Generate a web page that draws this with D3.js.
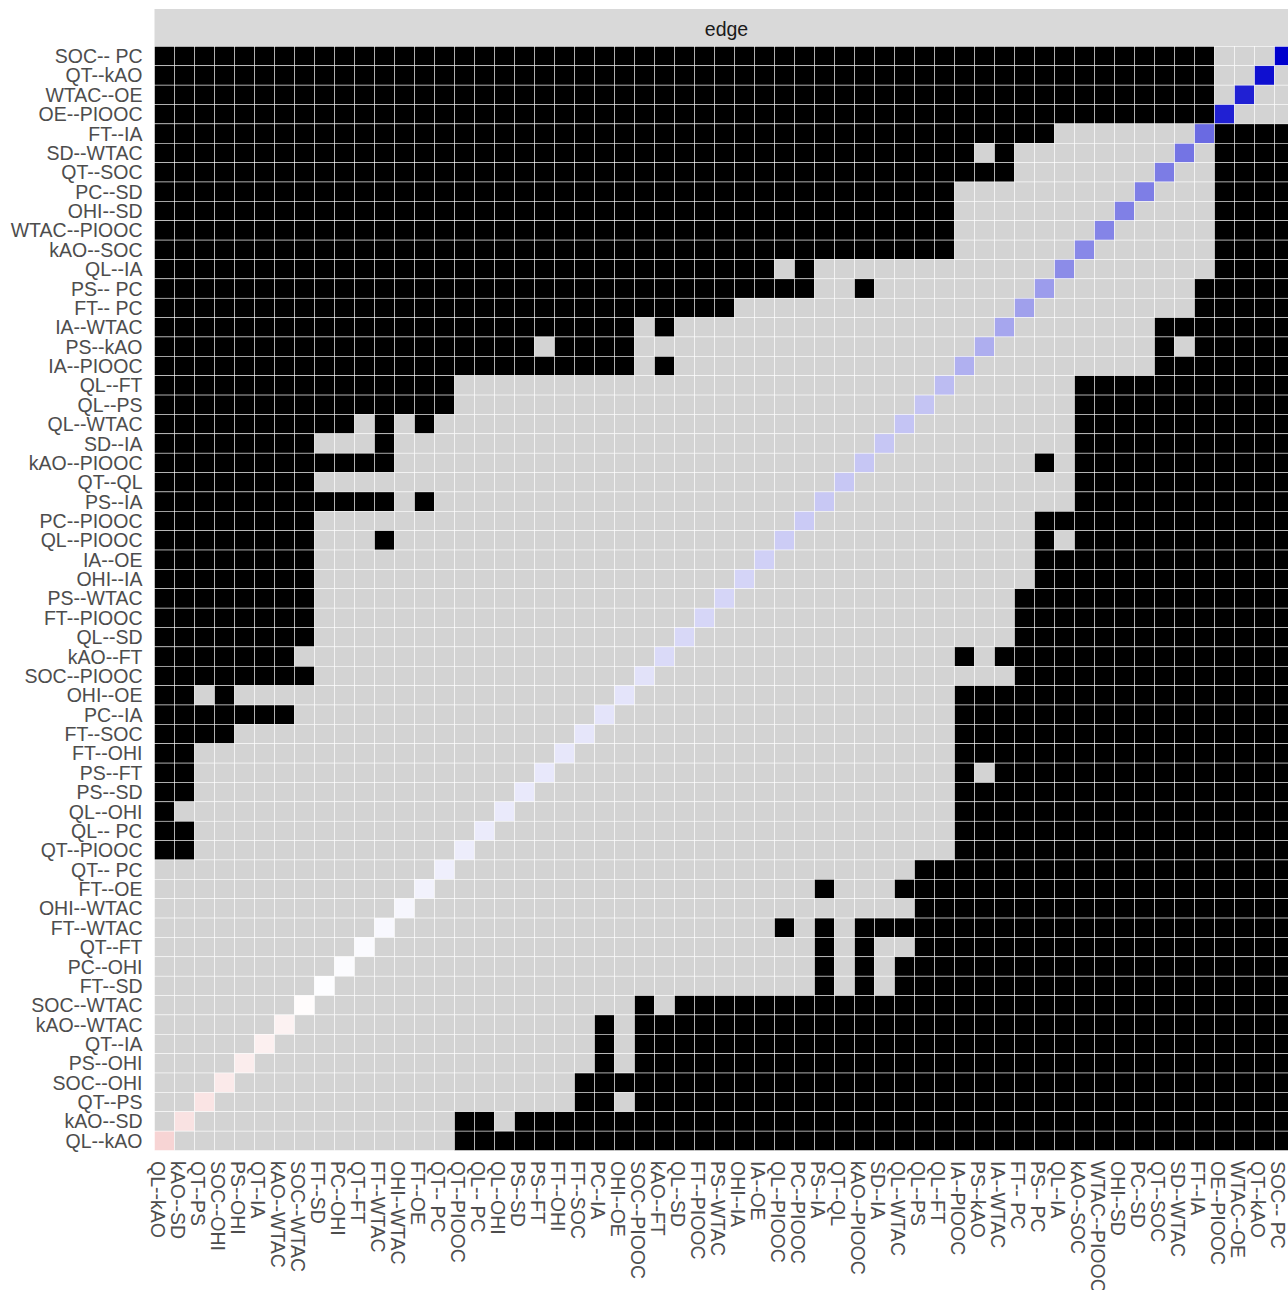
<!DOCTYPE html>
<html><head><meta charset="utf-8">
<script src="https://cdn.jsdelivr.net/npm/d3@7"></script>
<style>body{margin:0;background:#fff;overflow:hidden}</style>
</head><body><svg id="c" width="1288" height="1290"></svg>
<script>
// x-axis order (left to right); y-axis is the same list, top = last
const edges = ["QL--kAO","kAO--SD","QT--PS","SOC--OHI","PS--OHI","QT--IA","kAO--WTAC","SOC--WTAC","FT--SD","PC--OHI","QT--FT","FT--WTAC","OHI--WTAC","FT--OE","QT-- PC","QT--PIOOC","QL-- PC","QL--OHI","PS--SD","PS--FT","FT--OHI","FT--SOC","PC--IA","OHI--OE","SOC--PIOOC","kAO--FT","QL--SD","FT--PIOOC","PS--WTAC","OHI--IA","IA--OE","QL--PIOOC","PC--PIOOC","PS--IA","QT--QL","kAO--PIOOC","SD--IA","QL--WTAC","QL--PS","QL--FT","IA--PIOOC","PS--kAO","IA--WTAC","FT-- PC","PS-- PC","QL--IA","kAO--SOC","WTAC--PIOOC","OHI--SD","PC--SD","QT--SOC","SD--WTAC","FT--IA","OE--PIOOC","WTAC--OE","QT--kAO","SOC-- PC"];

// diagonal (self) values, in the same order as edges
const diagValues = [-0.169,-0.114,-0.106,-0.082,-0.071,-0.059,-0.051,-0.01,0.008,0.016,0.02,0.027,0.035,0.051,0.063,0.071,0.078,0.082,0.088,0.09,0.096,0.098,0.104,0.106,0.114,0.145,0.153,0.161,0.165,0.169,0.184,0.2,0.208,0.216,0.22,0.222,0.224,0.23,0.231,0.263,0.31,0.318,0.349,0.373,0.388,0.451,0.467,0.482,0.498,0.506,0.514,0.545,0.584,0.875,0.875,0.94,1.0];

// off-diagonal "black" cells: per row (top to bottom), inclusive column-index runs
const blackRuns = [
 [[0,52]],[[0,52]],[[0,52]],[[0,52]],
 [[0,44],[53,56]],
 [[0,40],[42,42],[53,56]],
 [[0,42],[53,56]],
 [[0,39],[53,56]],[[0,39],[53,56]],[[0,39],[53,56]],[[0,39],[53,56]],
 [[0,30],[32,32],[53,56]],
 [[0,32],[35,35],[52,56]],
 [[0,28],[52,56]],
 [[0,23],[25,25],[50,56]],
 [[0,18],[20,23],[50,50],[52,56]],
 [[0,23],[25,25],[50,56]],
 [[0,14],[46,56]],
 [[0,14],[46,56]],
 [[0,9],[11,11],[13,13],[46,56]],
 [[0,7],[11,11],[46,56]],
 [[0,11],[44,44],[46,56]],
 [[0,7],[46,56]],
 [[0,11],[13,13],[46,56]],
 [[0,7],[44,56]],
 [[0,7],[11,11],[44,44],[46,56]],
 [[0,7],[44,56]],
 [[0,7],[44,56]],
 [[0,7],[43,56]],
 [[0,7],[43,56]],
 [[0,7],[43,56]],
 [[0,6],[40,40],[42,56]],
 [[0,7],[43,56]],
 [[0,1],[3,3],[40,56]],
 [[0,6],[40,56]],
 [[0,3],[40,56]],
 [[0,1],[40,56]],
 [[0,1],[40,40],[42,56]],
 [[0,1],[40,56]],
 [[0,0],[40,56]],
 [[0,1],[40,56]],
 [[0,1],[40,56]],
 [[38,56]],
 [[33,33],[37,56]],
 [[38,56]],
 [[31,31],[33,33],[35,56]],
 [[33,33],[35,35],[38,56]],
 [[33,33],[35,35],[37,56]],
 [[33,33],[35,35],[37,56]],
 [[24,24],[26,56]],
 [[22,22],[24,56]],
 [[22,22],[24,56]],
 [[22,22],[24,56]],
 [[21,56]],
 [[21,22],[24,56]],
 [[15,16],[18,56]],
 [[15,56]]
];
const facetLabel = "edge";

const rowsTop = edges.slice().reverse();
const svg = d3.select("#c");
const FONT = "'Liberation Sans', Arial, Helvetica, sans-serif";
const FS = 19.5;

const x = d3.scaleBand().domain(edges).range([154.5, 1294.5]);
const y = d3.scaleBand().domain(rowsTop).range([46.4, 1150.5]);
const fill = d3.scaleLinear().domain([-1, 0, 1]).range(["#cd0000", "#ffffff", "#0000cd"]);

// strip
svg.append("rect").attr("x", x.range()[0]).attr("y", 9)
  .attr("width", x.range()[1] - x.range()[0]).attr("height", y.range()[0] - 9)
  .attr("fill", "#d9d9d9");
svg.append("text").attr("x", (x.range()[0] + x.range()[1]) / 2 + 2).attr("y", (9 + y.range()[0]) / 2 + 1.5)
  .attr("dy", "0.35em").attr("text-anchor", "middle")
  .attr("font-family", FONT).attr("font-size", FS).attr("fill", "#1a1a1a").text(facetLabel);

// cells
const cells = [];
rowsTop.forEach((rl, r) => {
  const runs = blackRuns[r];
  edges.forEach((cl, c) => {
    let kind;
    if (cl === rl) kind = "diag";
    else kind = runs.some(([a, b]) => c >= a && c <= b) ? "black" : "gray";
    cells.push({ row: rl, col: cl, kind, v: kind === "diag" ? diagValues[c] : null });
  });
});

svg.append("g").selectAll("rect").data(cells).join("rect")
  .attr("x", d => x(d.col)).attr("y", d => y(d.row))
  .attr("width", x.bandwidth()).attr("height", y.bandwidth())
  .attr("fill", d => d.kind === "diag" ? fill(d.v) : (d.kind === "black" ? "#000000" : "#d3d3d3"))
  .attr("stroke", "#ffffff").attr("stroke-width", 0.5);

// y labels
svg.append("g").selectAll("text").data(rowsTop).join("text")
  .attr("x", 142.5).attr("y", d => y(d) + y.bandwidth() / 2).attr("dy", "0.36em")
  .attr("text-anchor", "end").attr("font-family", FONT).attr("font-size", FS)
  .attr("fill", "#4d4d4d").text(d => d);

// x labels (rotated, reading downward)
svg.append("g").selectAll("text").data(edges).join("text")
  .attr("transform", d => `translate(${x(d) + x.bandwidth() / 2},1161) rotate(90)`)
  .attr("dy", "0.7em").attr("text-anchor", "start").attr("font-family", FONT).attr("font-size", FS)
  .attr("fill", "#4d4d4d").text(d => d);
</script></body></html>
